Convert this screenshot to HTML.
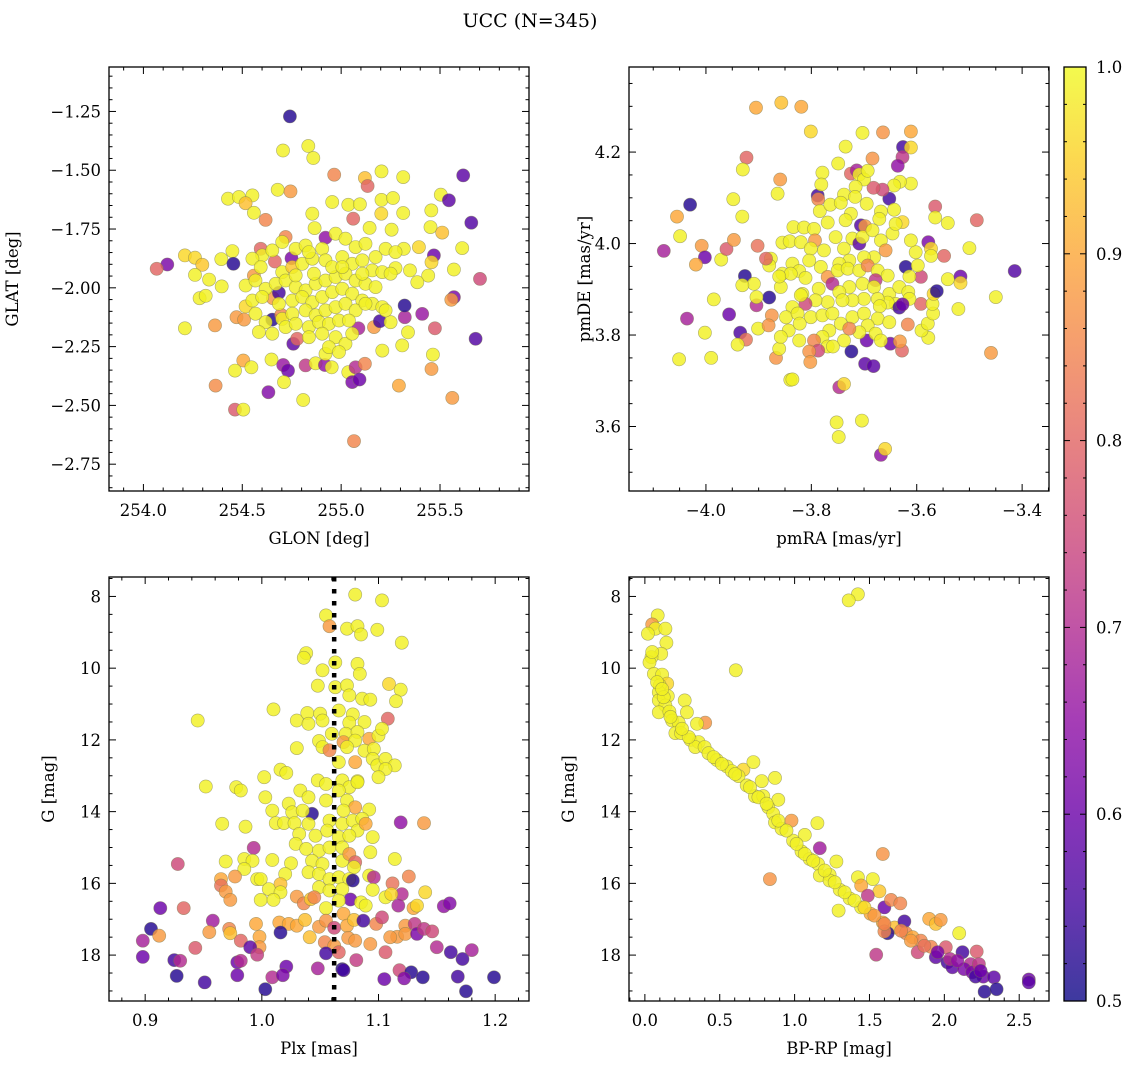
<!DOCTYPE html>
<html><head><meta charset="utf-8">
<style>
html,body{margin:0;padding:0;background:#fff;}
svg{display:block;font-family:"DejaVu Serif","Liberation Serif",serif;}
</style></head>
<body>
<svg id="fig" width="1136" height="1067" viewBox="0 0 1136 1067" xmlns="http://www.w3.org/2000/svg">
<text x="530" y="27" text-anchor="middle" font-size="19">UCC (N=345)</text>
</svg>
<script>
// ---------- DATA ----------
const p1x=[254.741,254.706,254.834,254.859,254.965,255.120,255.134,255.204,255.314,255.617,254.679,254.744,254.428,254.483,254.551,254.517,255.504,255.545,255.658,254.955,255.036,255.095,255.204,255.262,254.559,254.618,254.854,255.061,255.203,255.314,255.456,255.452,255.511,255.612,255.144,255.255,254.866,254.921,254.719,254.210,254.261,254.121,254.067,254.298,254.394,254.450,254.455,254.261,254.332,254.396,254.284,254.315,254.210,254.362,254.471,254.509,254.517,254.559,254.593,254.665,254.655,254.685,254.652,254.697,254.749,254.758,254.778,254.505,254.463,254.546,254.648,254.707,254.731,254.711,254.820,254.871,254.918,254.952,254.921,255.036,255.073,255.056,255.093,255.120,255.087,255.166,255.196,255.250,255.322,255.321,255.410,255.338,255.309,255.208,255.474,255.570,255.557,255.702,255.680,255.464,255.457,255.562,255.292,255.065,254.808,254.632,254.365,254.463,254.505,255.570,255.469,255.393,255.317,255.457,255.440,255.385,255.348,255.275,
254.601,254.652,254.702,254.770,254.820,254.904,254.972,255.022,255.073,255.123,255.174,255.225,255.275,254.551,254.593,254.702,254.753,254.803,254.854,254.921,255.006,255.056,255.107,255.157,255.208,255.250,254.517,254.567,254.618,254.669,254.719,254.770,254.820,254.871,254.921,254.972,255.022,255.073,255.123,255.174,254.551,254.601,254.685,254.753,254.803,254.854,254.904,254.955,255.006,255.056,255.107,255.157,255.208,254.567,254.618,254.702,254.753,254.820,254.871,254.921,254.972,255.022,255.073,255.123,255.225,254.584,254.652,254.719,254.770,254.837,254.888,254.938,254.989,255.039,254.837,254.904,254.972,255.022,255.056,254.938,254.989,254.837,254.955,254.862,255.006,255.107,254.770];
const p1y=[-1.271,-1.416,-1.397,-1.448,-1.519,-1.533,-1.567,-1.505,-1.529,-1.522,-1.583,-1.590,-1.621,-1.614,-1.607,-1.640,-1.604,-1.628,-1.723,-1.635,-1.647,-1.645,-1.626,-1.618,-1.681,-1.711,-1.685,-1.706,-1.685,-1.682,-1.671,-1.742,-1.765,-1.831,-1.745,-1.753,-1.746,-1.787,-1.784,-1.862,-1.872,-1.901,-1.919,-1.902,-1.878,-1.844,-1.898,-1.945,-1.965,-1.994,-2.044,-2.034,-2.172,-2.160,-2.125,-2.135,-2.079,-1.948,-1.834,-1.888,-2.044,-2.021,-2.135,-2.115,-1.874,-2.238,-2.217,-2.309,-2.352,-2.338,-2.305,-2.328,-2.352,-2.401,-2.330,-2.321,-2.328,-2.338,-2.281,-2.359,-2.338,-2.401,-2.390,-2.323,-2.172,-2.167,-2.142,-2.146,-2.125,-2.075,-2.111,-2.189,-2.245,-2.267,-2.172,-2.040,-2.051,-1.962,-2.217,-2.284,-2.345,-2.468,-2.416,-2.652,-2.477,-2.444,-2.416,-2.518,-2.518,-1.922,-1.862,-1.827,-1.834,-1.891,-1.948,-1.976,-1.926,-1.916,
-1.862,-1.841,-1.805,-1.834,-1.820,-1.834,-1.770,-1.791,-1.827,-1.813,-1.869,-1.834,-1.848,-1.876,-1.912,-1.933,-1.912,-1.898,-1.876,-1.883,-1.869,-1.898,-1.883,-1.926,-1.933,-1.940,-1.990,-1.969,-2.004,-1.983,-1.969,-1.997,-2.011,-1.983,-1.969,-1.954,-1.940,-1.969,-1.983,-1.997,-2.054,-2.039,-2.068,-2.054,-2.039,-2.061,-2.039,-2.018,-2.004,-2.025,-2.054,-2.068,-2.082,-2.110,-2.146,-2.132,-2.110,-2.096,-2.117,-2.096,-2.082,-2.068,-2.096,-2.068,-2.096,-2.188,-2.195,-2.167,-2.153,-2.167,-2.146,-2.153,-2.139,-2.139,-2.210,-2.195,-2.210,-2.238,-2.195,-2.252,-2.273,-1.848,-1.912,-1.940,-1.912,-1.940,-1.947];
const p1p=[0.52,0.99,0.99,0.99,0.85,0.93,0.8,0.99,0.99,0.58,0.99,0.88,0.99,0.99,0.99,0.93,0.99,0.58,0.57,0.99,0.99,0.99,0.99,0.99,0.99,0.85,0.99,0.8,0.96,0.99,0.99,0.99,0.93,0.99,0.99,0.99,0.99,0.65,0.85,0.96,0.96,0.62,0.8,0.94,0.99,0.99,0.52,0.99,0.99,0.99,0.99,0.99,0.99,0.88,0.88,0.88,0.96,0.88,0.8,0.8,0.88,0.55,0.52,0.85,0.62,0.58,0.8,0.9,0.99,0.99,0.99,0.66,0.6,0.99,0.72,0.99,0.65,0.99,0.99,0.99,0.7,0.62,0.6,0.85,0.68,0.88,0.55,0.99,0.68,0.52,0.66,0.99,0.99,0.99,0.78,0.62,0.88,0.75,0.57,0.99,0.88,0.88,0.9,0.85,0.99,0.63,0.86,0.78,0.99,0.99,0.6,0.96,0.99,0.96,0.99,0.99,0.99,0.99,
0.99,0.99,0.99,0.99,0.99,0.99,0.99,0.99,0.99,0.99,0.99,0.99,0.99,0.99,0.99,0.99,0.94,0.99,0.99,0.99,0.99,0.99,0.99,0.99,0.99,0.99,0.99,0.99,0.99,0.99,0.99,0.99,0.99,0.99,0.99,0.99,0.99,0.99,0.99,0.99,0.99,0.99,0.99,0.99,0.99,0.99,0.99,0.99,0.99,0.99,0.99,0.99,0.99,0.99,0.99,0.99,0.99,0.99,0.99,0.99,0.99,0.99,0.99,0.99,0.99,0.99,0.99,0.99,0.99,0.99,0.99,0.99,0.99,0.99,0.99,0.99,0.99,0.99,0.99,0.99,0.99,0.99,0.99,0.99,0.99,0.99,0.99];

const p2x=[-3.905,-3.857,-3.819,-3.801,-3.703,-3.664,-3.611,-3.626,-3.611,-3.627,-3.636,-3.684,-3.735,-3.749,-3.923,-3.930,-3.859,-3.864,-4.030,-4.055,-4.049,-4.080,-4.008,-4.002,-4.019,-3.971,-3.961,-3.947,-3.931,-3.948,-3.902,-3.926,-3.880,-3.904,-3.956,-3.985,-4.036,-4.002,-3.935,-3.924,-3.940,-3.901,-4.051,-3.990,-3.875,-3.881,-3.867,-3.861,-3.840,-3.836,-3.747,-3.738,-3.752,-3.748,-3.704,-3.668,-3.660,-3.724,-3.698,-3.682,-3.695,-3.650,-3.628,-3.632,-3.617,-3.592,-3.578,-3.591,-3.579,-3.569,-3.570,-3.568,-3.562,-3.521,-3.459,-3.450,-3.414,-3.541,-3.517,-3.517,-3.592,-3.548,-3.500,-3.486,-3.565,-3.565,-3.541,-3.578,-3.573,-3.573,-3.602,-3.611,-3.621,-3.614,-3.598,-3.611,-3.632,-3.643,-3.652,-3.665,-3.682,-3.643,-3.627,-3.788,-3.787,-3.779,-3.781,-3.725,-3.714,-3.709,-3.700,-3.693,-3.716,-3.738,-3.717,-3.784,-3.764,-3.744,-3.695,-3.668,-3.671,-3.725,-3.735,-3.769,-3.834,-3.814,-3.795,-3.855,-3.841,-3.820,-3.793,-3.801,-3.776,-3.754,-3.738,-3.722,-3.709,-3.706,-3.698,-3.703,-3.684,-3.668,-3.646,-3.640,-3.659,-3.681,-3.700,-3.728,-3.747,-3.782,-3.804,-3.836,-3.823,-3.855,-3.877,-3.880,-3.886,-3.839,-3.811,-3.769,-3.750,-3.731,-3.709,-3.693,-3.674,-3.655,-3.678,-3.703,-3.728,-3.760,-3.786,-3.817,-3.858,-3.861,-3.909,-3.931,-3.904,-3.747,-3.681,-3.652,-3.633,-3.616,-3.614,-3.640,-3.655,-3.674,-3.670,-3.633,-3.627,-3.700,-3.722,-3.741,-3.769,-3.792,-3.811,-3.820,-3.836,-3.848,-3.826,-3.801,-3.779,-3.760,-3.744,-3.722,-3.700,-3.674,-3.652,-3.693,-3.709,-3.678,-3.668,-3.738,-3.766,-3.779,-3.795,-3.769,-3.759,-3.787,-3.804,-3.802,-3.823,-3.843,-3.822,-3.858,-3.728];
const p2y=[4.297,4.308,4.299,4.245,4.242,4.243,4.245,4.211,4.210,4.189,4.170,4.186,4.212,4.175,4.188,4.162,4.140,4.109,4.085,4.059,4.016,3.984,3.995,3.970,3.954,3.965,3.988,4.008,4.059,4.097,3.995,3.929,3.882,3.865,3.845,3.878,3.836,3.805,3.805,3.790,3.779,3.814,3.747,3.750,3.843,3.821,3.750,3.770,3.702,3.703,3.686,3.693,3.609,3.577,3.613,3.538,3.551,3.764,3.737,3.732,3.788,3.781,3.766,3.786,3.823,3.868,3.794,3.810,3.825,3.847,3.868,3.890,3.896,3.857,3.761,3.883,3.940,3.922,3.928,3.914,3.927,3.973,3.990,4.051,4.081,4.057,4.045,4.003,3.989,3.973,3.981,4.007,3.949,3.928,3.952,4.131,4.135,4.127,4.098,4.118,4.122,4.074,4.047,4.105,4.097,4.155,4.129,4.153,4.160,4.151,4.140,4.159,4.124,4.107,4.102,4.071,4.085,4.089,4.087,4.070,4.054,4.065,4.051,4.046,4.036,4.035,4.032,4.002,4.005,4.003,4.007,3.989,3.985,4.014,3.989,4.011,4.000,4.040,4.038,4.014,4.029,4.007,4.022,4.043,3.985,3.970,3.970,3.963,3.956,3.949,3.963,3.956,3.940,3.934,3.967,3.952,3.967,3.934,3.925,3.927,3.941,3.945,3.941,3.952,3.941,3.930,3.920,3.912,3.905,3.912,3.901,3.890,3.905,3.928,3.912,3.909,3.883,3.894,3.905,3.890,3.905,3.894,3.879,3.868,3.871,3.879,3.863,3.860,3.867,3.879,3.876,3.876,3.872,3.876,3.868,3.887,3.861,3.839,3.847,3.839,3.843,3.847,3.825,3.839,3.847,3.836,3.828,3.821,3.806,3.803,3.788,3.788,3.810,3.796,3.788,3.775,3.775,3.766,3.764,3.741,3.788,3.810,3.825,3.796,3.814];
const p2p=[0.9,0.93,0.9,0.96,0.99,0.87,0.9,0.55,0.96,0.72,0.65,0.87,0.99,0.99,0.8,0.99,0.88,0.99,0.52,0.9,0.99,0.68,0.88,0.6,0.9,0.99,0.78,0.88,0.99,0.99,0.82,0.52,0.52,0.7,0.6,0.99,0.68,0.99,0.56,0.82,0.99,0.99,0.99,0.99,0.87,0.87,0.87,0.99,0.99,0.99,0.7,0.96,0.99,0.99,0.99,0.65,0.96,0.52,0.58,0.58,0.6,0.6,0.8,0.88,0.85,0.8,0.99,0.99,0.99,0.99,0.99,0.96,0.52,0.99,0.88,0.99,0.57,0.99,0.6,0.96,0.75,0.8,0.99,0.8,0.78,0.99,0.99,0.62,0.96,0.99,0.99,0.99,0.52,0.99,0.99,0.99,0.99,0.99,0.55,0.75,0.78,0.99,0.96,0.55,0.85,0.99,0.99,0.8,0.68,0.99,0.99,0.99,0.99,0.99,0.99,0.99,0.99,0.99,0.99,0.99,0.99,0.99,0.99,0.99,0.99,0.99,0.99,0.99,0.99,0.99,0.88,0.99,0.99,0.99,0.99,0.99,0.58,0.57,0.88,0.99,0.99,0.99,0.99,0.99,0.88,0.99,0.99,0.99,0.99,0.99,0.99,0.99,0.99,0.99,0.99,0.99,0.8,0.99,0.99,0.88,0.99,0.99,0.99,0.85,0.99,0.99,0.72,0.99,0.99,0.7,0.99,0.99,0.99,0.99,0.99,0.99,0.99,0.99,0.99,0.99,0.99,0.99,0.99,0.99,0.99,0.99,0.99,0.55,0.6,0.99,0.99,0.99,0.99,0.99,0.75,0.99,0.99,0.99,0.99,0.99,0.99,0.99,0.99,0.99,0.99,0.99,0.99,0.99,0.99,0.99,0.99,0.99,0.99,0.99,0.85,0.99,0.99,0.75,0.87,0.88,0.99,0.99,0.99,0.99,0.85,0.99,0.88];

const p3x=[1.080,1.103,1.055,1.058,1.073,1.082,1.085,1.099,1.120,1.038,1.036,1.063,1.082,1.084,1.052,1.048,1.063,1.073,1.075,1.086,1.093,1.109,1.119,1.115,1.108,1.010,0.945,1.030,1.039,1.050,1.040,1.052,1.066,1.078,1.075,1.088,1.072,1.082,1.060,1.049,1.070,1.080,1.092,1.100,1.103,1.030,1.052,1.058,1.073,1.088,1.096,1.080,1.095,1.099,1.106,1.114,1.106,1.100,1.066,
1.016,1.021,1.002,0.952,0.978,0.982,1.003,1.009,1.023,1.033,1.040,1.048,1.055,1.069,1.082,1.075,1.082,1.066,1.055,1.073,1.080,1.092,1.070,1.026,1.043,1.012,1.019,1.028,1.035,1.040,1.058,1.069,1.078,1.086,1.082,1.089,0.966,0.986,1.119,1.139,1.032,1.046,1.056,1.066,1.075,1.095,1.093,1.029,1.038,1.049,1.058,1.069,1.043,1.052,1.069,1.075,0.993,0.969,0.985,0.992,1.009,1.025,1.080,1.079,1.114,0.928,0.985,1.020,1.040,1.049,1.058,1.066,1.075,1.078,1.092,1.096,0.996,0.999,1.016,0.965,0.977,0.965,0.969,0.973,1.006,1.016,0.999,1.010,1.049,1.058,1.069,1.095,1.112,1.126,1.120,1.106,1.111,1.140,1.030,1.036,1.042,1.045,1.076,1.085,1.089,1.055,1.066,1.117,1.130,1.133,1.156,1.161,0.913,0.933,1.070,
0.958,0.995,1.015,1.023,1.030,1.037,1.049,1.055,1.062,1.073,1.079,1.087,1.098,1.103,1.116,1.123,1.123,1.131,1.133,1.139,1.146,1.110,0.905,0.898,0.912,0.955,0.972,0.973,0.982,0.998,0.998,0.990,0.996,1.016,1.041,1.054,1.062,1.074,1.080,1.093,1.106,1.055,1.066,1.081,1.150,1.162,1.172,1.180,0.943,0.898,0.925,0.930,0.979,0.982,1.021,1.048,1.069,1.070,1.118,1.128,0.927,0.979,1.009,1.018,1.105,1.122,1.138,1.168,1.199,0.951,1.003,1.175];
const p3y=[7.95,8.11,8.53,8.83,8.90,8.83,9.06,8.93,9.29,9.58,9.71,9.84,9.88,10.16,10.06,10.49,10.53,10.48,10.76,10.85,10.88,10.44,10.60,10.92,11.41,11.15,11.46,11.46,11.25,11.27,11.55,11.46,11.18,11.29,11.52,11.50,11.83,11.78,11.83,12.03,12.06,12.02,11.97,11.88,11.69,12.23,12.20,12.29,12.20,12.30,12.25,12.62,12.53,12.71,12.53,12.71,12.81,13.04,12.62,
12.83,12.92,13.04,13.30,13.32,13.41,13.60,13.97,13.78,13.41,13.60,13.13,13.23,13.13,13.15,13.32,13.18,13.41,13.69,13.69,13.88,13.94,13.97,14.02,14.06,14.32,14.32,14.32,13.97,14.34,14.25,14.34,14.25,14.20,14.53,14.34,14.34,14.42,14.30,14.32,14.62,14.67,14.53,14.71,14.67,14.71,15.13,14.90,15.04,15.09,15.00,15.00,15.37,15.46,15.37,15.18,15.01,15.39,15.32,15.37,15.35,15.44,15.41,15.55,15.32,15.46,15.60,15.74,15.69,15.74,15.88,15.83,15.88,15.92,15.78,15.83,15.88,15.88,16.02,15.88,15.81,16.06,16.23,16.46,16.16,16.25,16.46,16.46,16.11,16.20,16.16,16.18,16.00,15.81,16.30,16.39,16.30,16.25,16.37,16.56,16.44,16.39,16.45,16.53,16.62,16.69,16.48,16.62,16.69,16.62,16.64,16.56,16.69,16.69,16.85,
17.04,17.13,17.09,17.13,17.18,17.02,17.21,17.04,17.24,17.18,17.02,17.04,17.13,16.95,17.49,17.18,17.41,17.13,17.41,17.27,17.34,17.50,17.27,17.60,17.46,17.36,17.27,17.39,17.60,17.49,17.78,17.78,17.99,17.37,17.50,17.64,17.74,17.52,17.60,17.69,17.92,17.95,17.92,18.14,17.78,17.92,18.11,17.86,17.80,18.05,18.14,18.16,18.20,18.16,18.32,18.37,18.39,18.42,18.42,18.48,18.58,18.56,18.62,18.56,18.67,18.65,18.62,18.60,18.62,18.76,18.95,19.01];
const p3p=[0.99,0.99,0.99,0.88,0.99,0.99,0.99,0.99,0.99,0.99,0.99,0.99,0.99,0.99,0.99,0.99,0.99,0.99,0.99,0.99,0.99,0.96,0.99,0.99,0.8,0.99,0.99,0.99,0.99,0.99,0.99,0.99,0.99,0.99,0.99,0.99,0.99,0.99,0.99,0.99,0.88,0.99,0.9,0.99,0.99,0.99,0.99,0.85,0.99,0.99,0.99,0.9,0.99,0.99,0.99,0.99,0.99,0.99,0.99,
0.99,0.99,0.99,0.99,0.99,0.99,0.99,0.99,0.99,0.99,0.99,0.99,0.99,0.99,0.99,0.99,0.99,0.99,0.99,0.99,0.9,0.99,0.99,0.99,0.52,0.99,0.99,0.99,0.99,0.99,0.99,0.99,0.99,0.99,0.99,0.9,0.99,0.99,0.65,0.88,0.99,0.99,0.99,0.99,0.99,0.99,0.99,0.99,0.99,0.99,0.99,0.99,0.99,0.99,0.99,0.88,0.7,0.99,0.99,0.99,0.99,0.99,0.8,0.99,0.99,0.75,0.99,0.99,0.99,0.99,0.99,0.99,0.99,0.52,0.99,0.7,0.99,0.99,0.93,0.9,0.88,0.82,0.88,0.88,0.99,0.99,0.99,0.99,0.99,0.99,0.99,0.99,0.82,0.85,0.7,0.99,0.96,0.96,0.88,0.85,0.94,0.85,0.6,0.99,0.99,0.99,0.99,0.68,0.9,0.96,0.65,0.63,0.6,0.8,0.9,
0.67,0.9,0.9,0.9,0.9,0.93,0.88,0.87,0.75,0.9,0.93,0.55,0.85,0.75,0.88,0.88,0.88,0.72,0.62,0.72,0.75,0.88,0.52,0.68,0.88,0.88,0.85,0.93,0.8,0.9,0.88,0.58,0.73,0.52,0.93,0.85,0.88,0.88,0.88,0.88,0.78,0.55,0.8,0.73,0.7,0.55,0.55,0.68,0.78,0.6,0.55,0.7,0.6,0.7,0.6,0.68,0.52,0.55,0.75,0.52,0.52,0.6,0.7,0.62,0.6,0.63,0.52,0.55,0.52,0.55,0.52,0.52];

const p4x=[1.423,1.361,0.086,0.049,0.071,0.137,0.020,0.144,0.109,0.044,0.031,0.607,0.060,0.115,0.149,0.100,0.093,0.153,0.093,0.266,0.137,0.093,0.164,0.281,0.403,0.348,0.182,0.226,0.204,0.241,0.304,0.359,0.337,0.399,0.425,0.481,0.547,0.658,0.725,0.580,0.625,0.680,0.780,0.869,0.735,0.791,0.891,0.824,0.857,0.979,0.869,0.913,1.068,1.152,0.990,1.046,1.168,1.101,1.157,1.279,1.589,0.835,1.168,1.234,1.234,1.301,1.423,1.445,1.522,1.566,1.489,1.367,1.445,1.294,1.600,1.644,1.706,1.507,1.589,1.667,1.733,1.622,1.600,1.744,1.788,1.843,1.899,1.943,1.976,2.099,1.910,1.822,1.943,2.010,1.545,2.021,2.054,2.038,2.121,2.216,2.176,2.132,2.187,2.231,2.260,2.209,2.331,2.269,2.349,2.564,2.564,
0.459,0.514,0.603,0.702,0.758,0.813,0.891,0.946,1.013,1.068,1.124,1.201,1.268,1.334,1.400,1.467,1.533,1.600,1.711,1.777,1.866,1.955,2.087,2.242,0.293,0.248,0.171,0.126,0.082,0.115,0.049];
const p4y=[7.94,8.11,8.53,8.78,8.90,8.90,9.04,9.29,9.60,9.69,9.84,10.06,10.16,10.18,10.43,10.48,10.67,10.78,10.90,10.90,11.04,11.23,11.21,11.23,11.52,11.55,11.46,11.52,11.81,11.81,12.00,12.06,12.20,12.20,12.37,12.56,12.74,12.83,12.62,12.87,13.01,13.27,13.15,13.06,13.57,13.57,13.67,13.88,14.06,14.25,14.30,14.48,14.65,14.32,14.81,15.11,15.02,15.32,15.46,15.39,15.18,15.88,15.78,15.76,15.92,16.18,15.83,16.06,15.88,16.22,16.34,16.42,16.67,16.76,16.67,16.46,16.56,16.85,17.09,17.23,17.06,17.39,17.34,17.39,17.50,17.60,16.99,17.13,17.02,17.39,17.77,17.92,18.06,17.78,17.99,18.20,18.34,18.11,17.92,17.90,18.25,18.39,18.48,18.25,18.60,18.60,18.62,19.02,18.95,18.68,18.76,
12.48,12.67,12.95,13.32,13.60,13.78,14.25,14.53,14.90,15.18,15.37,15.64,15.97,16.25,16.48,16.67,16.90,17.13,17.32,17.60,17.74,17.92,18.16,18.44,11.92,11.69,11.36,10.81,10.39,10.58,9.55];
const p4p=[0.99,0.99,0.99,0.88,0.99,0.99,0.99,0.99,0.99,0.99,0.99,0.99,0.99,0.99,0.96,0.99,0.99,0.99,0.99,0.99,0.99,0.99,0.99,0.99,0.87,0.99,0.99,0.99,0.99,0.99,0.99,0.99,0.99,0.99,0.99,0.99,0.99,0.96,0.99,0.99,0.99,0.99,0.99,0.99,0.99,0.99,0.99,0.99,0.99,0.88,0.99,0.99,0.99,0.99,0.99,0.99,0.67,0.99,0.99,0.99,0.87,0.87,0.99,0.99,0.99,0.99,0.99,0.9,0.99,0.94,0.72,0.99,0.99,0.99,0.6,0.85,0.85,0.9,0.9,0.93,0.55,0.52,0.85,0.85,0.9,0.85,0.9,0.93,0.88,0.99,0.85,0.75,0.58,0.78,0.72,0.55,0.58,0.7,0.55,0.78,0.7,0.62,0.62,0.72,0.6,0.55,0.58,0.52,0.52,0.6,0.58,
0.99,0.99,0.99,0.99,0.99,0.99,0.99,0.99,0.99,0.99,0.99,0.99,0.99,0.99,0.99,0.96,0.88,0.85,0.85,0.88,0.82,0.62,0.65,0.6,0.99,0.99,0.99,0.99,0.99,0.99,0.99];

const cbTicks=[0.5,0.6,0.7,0.8,0.9,1.0];
const plxLine=1.062;

// ---------- RENDER ----------
const NS='http://www.w3.org/2000/svg';
const svg=document.getElementById('fig');
function mk(tag,attrs,parent){const e=document.createElementNS(NS,tag);for(const k in attrs)e.setAttribute(k,attrs[k]);(parent||svg).appendChild(e);return e;}
const stops=[[13,8,135],[65,4,157],[106,0,168],[143,13,164],[177,42,144],[204,71,120],[225,100,98],[242,132,75],[252,166,54],[252,206,37],[240,249,33]];
function plasma(t){t=Math.max(0,Math.min(1,t));const f=t*10,i=Math.min(9,Math.floor(f)),r=f-i;const a=stops[i],b=stops[i+1];return 'rgb('+[0,1,2].map(k=>Math.round(a[k]+(b[k]-a[k])*r)).join(',')+')';}
function pcol(p){return plasma((p-0.5)/0.5);}

const panels=[
 {name:'glon-glat',x0:109,x1:529,y0:67,y1:491,xmin:253.826,xmax:255.95,ymin:-2.864,ymax:-1.061,inv:false,
  xt:[254.0,254.5,255.0,255.5],xf:1,xminor:0.1,yt:[-1.25,-1.5,-1.75,-2.0,-2.25,-2.5,-2.75],yf:2,yminor:0.05,
  xl:'GLON [deg]',yl:'GLAT [deg]',xs:p1x,ys:p1y,ps:p1p,yoff:91},
 {name:'pmra-pmde',x0:629,x1:1049,y0:67,y1:491,xmin:-4.146,xmax:-3.349,ymin:3.459,ymax:4.386,inv:false,
  xt:[-4.0,-3.8,-3.6,-3.4],xf:1,xminor:0.05,yt:[3.6,3.8,4.0,4.2],yf:1,yminor:0.05,
  xl:'pmRA [mas/yr]',yl:'pmDE [mas/yr]',xs:p2x,ys:p2y,ps:p2p,yoff:39},
 {name:'plx-g',x0:109,x1:529,y0:577,y1:1001,xmin:0.869,xmax:1.229,ymin:7.458,ymax:19.28,inv:true,
  xt:[0.9,1.0,1.1,1.2],xf:1,xminor:0.02,yt:[8,10,12,14,16,18],yf:0,yminor:0.5,
  xl:'Plx [mas]',yl:'G [mag]',xs:p3x,ys:p3y,ps:p3p,yoff:55},
 {name:'bprp-g',x0:629,x1:1049,y0:577,y1:1001,xmin:-0.106,xmax:2.699,ymin:7.458,ymax:19.28,inv:true,
  xt:[0.0,0.5,1.0,1.5,2.0,2.5],xf:1,xminor:0.1,yt:[8,10,12,14,16,18],yf:0,yminor:0.5,
  xl:'BP-RP [mag]',yl:'G [mag]',xs:p4x,ys:p4y,ps:p4p,yoff:55}
];
function fmt(v,f){let s=v.toFixed(f);if(v<0)s='\u2212'+s.slice(1);return s;}

panels.forEach(P=>{
 const sx=v=>P.x0+(v-P.xmin)/(P.xmax-P.xmin)*(P.x1-P.x0);
 const sy=v=>P.inv? P.y0+(v-P.ymin)/(P.ymax-P.ymin)*(P.y1-P.y0) : P.y1-(v-P.ymin)/(P.ymax-P.ymin)*(P.y1-P.y0);
 const g=mk('g',{});
 
 
 const cid='clip-'+P.name;
 const cp=mk('clipPath',{id:cid},g);mk('rect',{x:P.x0,y:P.y0,width:P.x1-P.x0,height:P.y1-P.y0},cp);
 const pts=mk('g',{'clip-path':'url(#'+cid+')'},g);
 
 
 for(let i=0;i<P.xs.length;i++){
  const c=mk('circle',{cx:sx(P.xs[i]).toFixed(1),cy:sy(P.ys[i]).toFixed(1),r:6.6,fill:pcol(P.ps[i]),'fill-opacity':0.82,stroke:'#7a7a50','stroke-opacity':0.6,'stroke-width':0.6},pts);
  
  
 }
 if(P.name==='plx-g'){
  const l=mk('line',{x1:sx(plxLine),x2:sx(plxLine),y1:P.y0,y2:P.y1,stroke:'#000','stroke-width':4.5,'stroke-dasharray':'4.5,7.5'},g);
  
  
 }
 const tk=mk('g',{stroke:'#000','stroke-width':1},g);
 
 
 const eps=1e-6;
 for(let v=Math.ceil(P.xmin/P.xminor)*P.xminor;v<=P.xmax+eps;v+=P.xminor){
  const X=sx(v);if(X<P.x0+0.5||X>P.x1-0.5)continue;
  const major=P.xt.some(t=>Math.abs(t-v)<P.xminor/10);const L=major?7:3.5;
  mk('line',{x1:X,x2:X,y1:P.y1,y2:P.y1-L},tk);mk('line',{x1:X,x2:X,y1:P.y0,y2:P.y0+L},tk);
 }
 for(let v=Math.ceil(P.ymin/P.yminor)*P.yminor;v<=P.ymax+eps;v+=P.yminor){
  const Y=sy(v);if(Y<P.y0+0.5||Y>P.y1-0.5)continue;
  const major=P.yt.some(t=>Math.abs(t-v)<P.yminor/10);const L=major?7:3.5;
  mk('line',{x1:P.x0,x2:P.x0+L,y1:Y,y2:Y},tk);mk('line',{x1:P.x1,x2:P.x1-L,y1:Y,y2:Y},tk);
 }
 const fr=mk('rect',{x:P.x0,y:P.y0,width:P.x1-P.x0,height:P.y1-P.y0,fill:'none',stroke:'#000','stroke-width':1.3},g);
 
 
 P.xt.forEach(v=>{const t=mk('text',{x:sx(v),y:P.y1+25,'text-anchor':'middle','font-size':16.5},g);t.textContent=fmt(v,P.xf);
  });
 P.yt.forEach(v=>{const t=mk('text',{x:P.x0-8,y:sy(v)+6,'text-anchor':'end','font-size':16.5},g);t.textContent=fmt(v,P.yf);
  });
 const xl=mk('text',{x:(P.x0+P.x1)/2,y:P.y1+53,'text-anchor':'middle','font-size':16.5},g);xl.textContent=P.xl;
 
 const yx=P.x0-P.yoff;
 const yl=mk('text',{x:yx,y:(P.y0+P.y1)/2,'text-anchor':'middle','font-size':16.5,transform:'rotate(-90 '+yx+' '+(P.y0+P.y1)/2+')'},g);yl.textContent=P.yl;
 
});

// colorbar
(function(){
 const X0=1064,X1=1086,Y0=67,Y1=1001;
 const g=mk('g',{});
 
 
 const defs=mk('defs',{},g);
 const lg=mk('linearGradient',{id:'cbg',x1:0,y1:1,x2:0,y2:0},defs);
 for(let i=0;i<=20;i++){mk('stop',{offset:(i/20),'stop-color':plasma(i/20)},lg);}
 const r=mk('rect',{x:X0,y:Y0,width:X1-X0,height:Y1-Y0,fill:'url(#cbg)','fill-opacity':0.8},g);
 
 const sy=v=>Y1-(v-0.5)/0.5*(Y1-Y0);
 for(let v=0.52;v<1.0-1e-6;v+=0.02){const Y=sy(v);const major=cbTicks.some(t=>Math.abs(t-v)<0.005);const L=major?6:3;
  mk('line',{x1:X0,x2:X0+L,y1:Y,y2:Y,stroke:'#000','stroke-width':1},g);mk('line',{x1:X1,x2:X1-L,y1:Y,y2:Y,stroke:'#000','stroke-width':1},g);}
 mk('rect',{x:X0,y:Y0,width:X1-X0,height:Y1-Y0,fill:'none',stroke:'#000','stroke-width':1.3},g);
 cbTicks.forEach(v=>{const t=mk('text',{x:X1+10,y:sy(v)+6,'font-size':16.5},g);t.textContent=v.toFixed(1);
  });
})();
</script>
</body></html>
